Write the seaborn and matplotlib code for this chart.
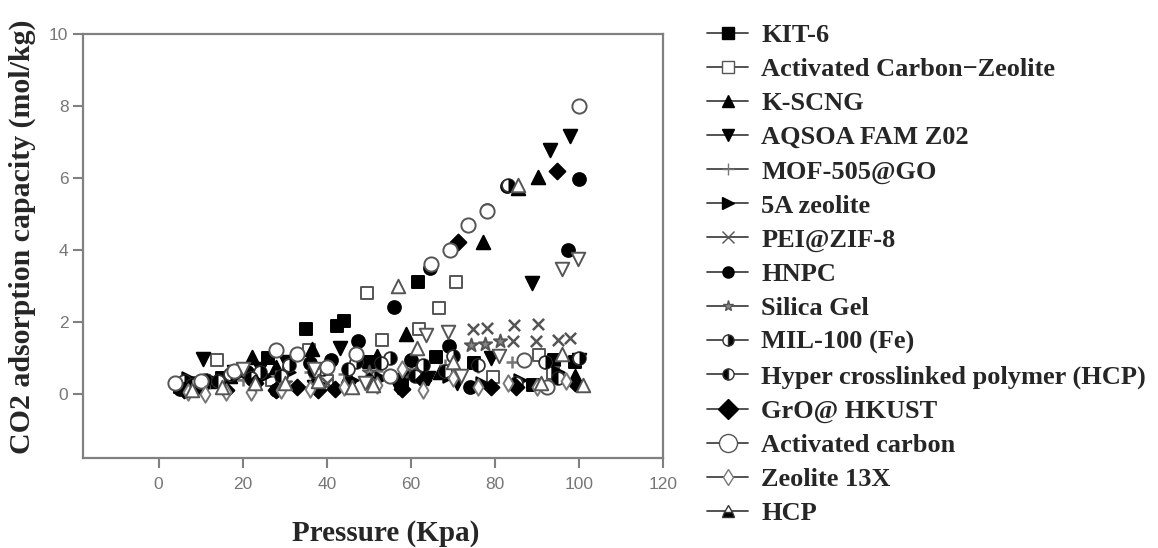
import matplotlib
matplotlib.use("Agg")
import matplotlib.pyplot as plt
from matplotlib.lines import Line2D
from matplotlib.markers import MarkerStyle
import seaborn as sns

# pressure (kPa) / CO2 capacity (mol/kg)
kit6_x = [5, 10, 15, 20, 26, 35, 42.5, 44, 50, 58, 61.7, 66, 75, 89, 94, 99]
kit6_y = [0.2, 0.3, 0.45, 0.6, 1.0, 1.8, 1.9, 2.02, 0.9, 0.4, 3.1, 1.03, 0.85, 0.25, 0.93, 0.9]

acz_x = [8, 13.9, 20, 27, 35.8, 40, 49.6, 53.1, 61.9, 66.7, 70.8, 79.5, 90.5, 93.7]
acz_y = [0.3, 0.93, 0.55, 0.4, 1.22, 0.35, 2.81, 1.49, 1.8, 2.38, 3.1, 0.47, 1.08, 0.57]

kscng_x = [6, 12, 17, 22.3, 28, 36.5, 45, 52, 58.9, 67, 77.2, 85.6, 90.3, 99]
kscng_y = [0.2, 0.35, 0.5, 1.03, 0.75, 1.25, 0.5, 1.05, 1.66, 0.6, 4.21, 5.71, 6.02, 0.5]

aqsoa_x = [10.6, 18, 24, 30.4, 37, 43.1, 50, 57, 64, 71, 79, 88.7, 93, 97.9, 100]
aqsoa_y = [0.96, 0.6, 0.7, 0.89, 0.2, 1.29, 0.8, 0.2, 0.45, 0.3, 1.0, 3.07, 6.77, 7.17, 0.95]

mof_x = [5, 12, 20, 28, 36, 44, 52, 60, 68, 76, 84, 92, 100]
mof_y = [0.2, 0.3, 0.4, 0.5, 0.6, 0.55, 0.65, 0.7, 0.8, 0.75, 0.9, 0.85, 1.0]

z5a_x = [7, 13, 19, 25, 31, 38, 46, 53, 60, 69, 77, 86, 95]
z5a_y = [0.45, 0.4, 0.55, 0.5, 0.6, 0.3, 0.4, 0.45, 0.55, 0.5, 0.3, 0.4, 0.6]

pei_x = [40, 60, 74.7, 78.1, 84.6, 90.3, 84.2, 89.8, 94.9, 97.9]
pei_y = [0.3, 0.6, 1.8, 1.83, 1.92, 1.95, 1.47, 1.47, 1.51, 1.56]

hnpc_x = [5, 9, 14, 21, 28, 36, 41, 47.4, 56.1, 60, 64.5, 69, 74, 82.9, 97.3, 99.9]
hnpc_y = [0.15, 0.3, 0.35, 0.6, 0.1, 0.85, 0.95, 1.47, 2.41, 0.95, 3.51, 1.32, 0.2, 5.77, 3.99, 5.97]

silica_x = [30, 50, 74.4, 77.6, 81.1]
silica_y = [0.3, 0.6, 1.37, 1.4, 1.47]

mil_x = [6, 11, 17, 24, 31, 39, 47, 55, 63, 70, 78.1, 83, 92, 100]
mil_y = [0.35, 0.4, 0.55, 0.6, 0.8, 0.7, 0.9, 1.0, 0.8, 1.05, 5.1, 5.8, 0.9, 1.0]

hyper_x = [8, 14, 22, 29, 37, 45, 53, 61, 68, 76, 85, 95]
hyper_y = [0.25, 0.35, 0.45, 0.5, 0.65, 0.7, 0.85, 0.5, 0.65, 0.8, 0.3, 0.45]

gro_x = [6, 10, 16, 23, 28, 33, 38, 42, 50, 58, 63, 71.3, 79, 85, 94.7, 99]
gro_y = [0.1, 0.2, 0.1, 0.3, 0.1, 0.2, 0.1, 0.15, 0.35, 0.15, 0.4, 4.21, 0.2, 0.2, 6.19, 0.3]

ac_x = [4, 10, 18, 27.9, 33, 40, 47, 55, 64.7, 69.2, 73.7, 78.1, 87, 92.5, 100]
ac_y = [0.3, 0.35, 0.65, 1.22, 1.1, 0.75, 1.1, 0.5, 3.61, 4.0, 4.69, 5.08, 0.95, 0.2, 8.0]

z13x_x = [7, 11, 16, 22, 29, 36, 44, 52, 58, 63, 70, 76, 83, 90, 97]
z13x_y = [0.05, 0.0, 0.05, 0.05, 0.1, 0.15, 0.2, 0.25, 0.7, 0.1, 0.45, 0.2, 0.3, 0.2, 0.35]

hcp_x = [8, 15, 23, 30, 38, 46, 51, 56.9, 61.5, 70, 85.6, 91, 96, 101]
hcp_y = [0.1, 0.2, 0.3, 0.3, 0.35, 0.2, 0.25, 2.99, 1.29, 0.9, 5.8, 0.3, 1.1, 0.25]

# open down triangles that have no legend entry
extra_x = [20, 37, 49, 63.6, 68.9, 72, 81, 95.9, 99.7]
extra_y = [0.7, 0.7, 0.3, 1.64, 1.71, 0.5, 1.05, 3.46, 3.76]

labels = ["KIT-6", "Activated Carbon\u2212Zeolite", "K-SCNG", "AQSOA FAM Z02",
          "MOF-505@GO", "5A zeolite", "PEI@ZIF-8", "HNPC", "Silica Gel",
          "MIL-100 (Fe)", "Hyper crosslinked polymer (HCP)", "GrO@ HKUST",
          "Activated carbon", "Zeolite 13X", "HCP"]
xs = [kit6_x, acz_x, kscng_x, aqsoa_x, mof_x, z5a_x, pei_x, hnpc_x, silica_x,
      mil_x, hyper_x, gro_x, ac_x, z13x_x, hcp_x]
ys = [kit6_y, acz_y, kscng_y, aqsoa_y, mof_y, z5a_y, pei_y, hnpc_y, silica_y,
      mil_y, hyper_y, gro_y, ac_y, z13x_y, hcp_y]

# marker, face, edge, size, fillstyle
styles = [
    ("s", "black", "black", 80, "full"),
    ("s", "white", "#555555", 80, "none"),
    ("^", "black", "black", 95, "full"),
    ("v", "black", "black", 95, "full"),
    ("+", "#777777", "#777777", 70, "full"),
    (">", "black", "black", 80, "full"),
    ("x", "#555555", "#555555", 65, "full"),
    ("o", "black", "black", 85, "full"),
    ("*", "#888888", "#555555", 100, "full"),
    ("o", "black", "#333333", 85, "right"),
    ("o", "black", "#333333", 85, "left"),
    ("D", "black", "black", 65, "full"),
    ("o", "white", "#555555", 105, "none"),
    ("d", "white", "#777777", 70, "none"),
    ("^", "white", "#555555", 95, "none"),
]

sns.set_style("ticks")
plt.rcParams['font.family'] = ['Liberation Serif', 'DejaVu Serif']

fig = plt.figure(figsize=(11.58, 5.48), dpi=100)
ax = fig.add_axes([0.0717, 0.1642, 0.5009, 0.7737])

for x, y, (m, fc, ec, s, fill) in zip(xs, ys, styles):
    if fill in ("left", "right"):
        sns.scatterplot(x=x, y=y, marker="o", s=s, color="white",
                        edgecolor=ec, linewidth=1.3, ax=ax)
        sns.scatterplot(x=x, y=y, marker=MarkerStyle("o", fillstyle=fill),
                        s=s, color=fc, linewidth=0, ax=ax)
    elif m in ("+", "x"):
        sns.scatterplot(x=x, y=y, marker=m, s=s, color=ec, linewidth=1.8, ax=ax)
    else:
        sns.scatterplot(x=x, y=y, marker=m, s=s, color=fc,
                        edgecolor=ec, linewidth=1.4, ax=ax)

sns.scatterplot(x=extra_x, y=extra_y, marker="v", s=95, color="white",
                edgecolor="#555555", linewidth=1.4, ax=ax)

ax.set_xlim(-18, 120)
ax.set_ylim(-1.78, 10)
ax.set_xticks(range(0, 121, 20))
ax.set_yticks(range(0, 11, 2))
for sp in ax.spines.values():
    sp.set_color("#808080")
    sp.set_linewidth(1.6)
ax.tick_params(direction="out", length=7, width=1.5, color="#808080",
               labelcolor="#777777", labelsize=12.5)
ax.tick_params(axis="x", pad=7)
for lab in ax.get_xticklabels() + ax.get_yticklabels():
    lab.set_family(["Liberation Sans Narrow", "Liberation Sans"])

ax.set_xlabel("Pressure (Kpa)", fontsize=21, fontweight="bold")
ax.xaxis.set_label_coords(0.521, -0.177)
ax.xaxis.label.set_va("center")
ax.set_ylabel("CO2 adsorption capacity (mol/kg)", fontsize=21.5, fontweight="bold")
ax.yaxis.set_label_coords(-0.105, 0.521)
ax.yaxis.label.set_va("center")

handles = []
for lab, (m, fc, ec, s, fill) in zip(labels, styles):
    ms = 8
    if lab == "Activated carbon":
        ms = 13
    elif m == "D":
        ms = 10
    if fill == "none":
        h = Line2D([0], [0], color="#444444", lw=1.3, marker=m, markersize=ms,
                   markerfacecolor="white", markeredgecolor=ec)
    elif fill in ("left", "right"):
        h = Line2D([0], [0], color="#444444", lw=1.3, marker=m, markersize=ms,
                   markerfacecolor=fc, markeredgecolor=ec, fillstyle=fill,
                   markerfacecoloralt="white")
    else:
        h = Line2D([0], [0], color="#444444", lw=1.3, marker=m, markersize=ms,
                   markerfacecolor=fc, markeredgecolor=ec)
    handles.append(h)
# HCP legend symbol is a half filled triangle
handles[-1] = Line2D([0], [0], color="#444444", lw=1.3, marker="^", markersize=9,
                     markerfacecolor="black", markeredgecolor="#333333",
                     fillstyle="bottom", markerfacecoloralt="white")

fig.legend(handles, labels, loc="upper left", bbox_to_anchor=(0.6015, 0.976),
           frameon=False, prop=dict(family="Liberation Serif", weight="bold", size=19),
           handlelength=1.55, handletextpad=0.5, labelspacing=0.40, borderaxespad=0)

fig.savefig("out.png", dpi=100)
